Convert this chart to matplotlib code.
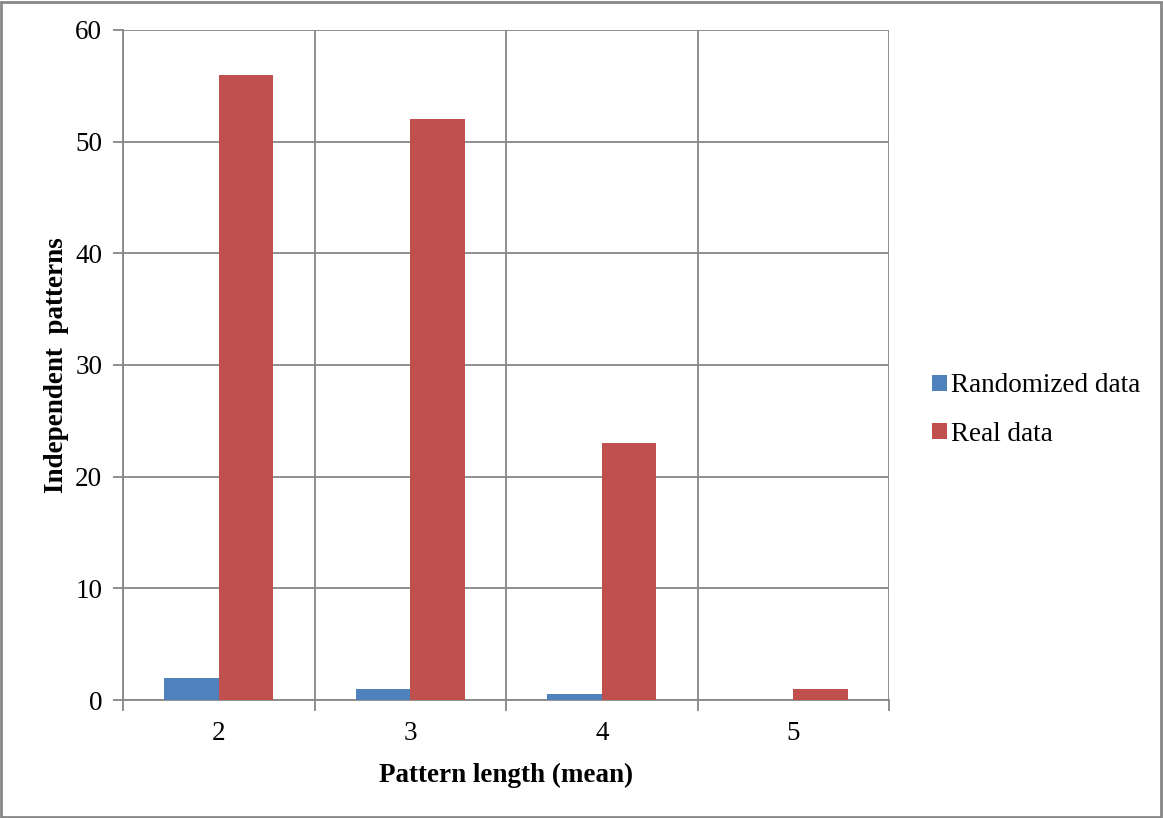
import matplotlib
matplotlib.use("Agg")
import matplotlib.pyplot as plt
import numpy as np
from matplotlib.patches import Rectangle

categories = ["2", "3", "4", "5"]
randomized = [2, 1, 0.5, 0]
real = [56, 52, 23, 1]
series_names = ["Randomized data", "Real data"]
yticks = [0, 10, 20, 30, 40, 50, 60]

plt.rcParams['font.family'] = ['Liberation Serif', 'DejaVu Serif']
FS = 19.5

fig = plt.figure(figsize=(11.63, 8.18), dpi=100)
ax = fig.add_axes([123/1163, 1-700/818, (889-123)/1163, (700-30)/818])

x = np.arange(len(categories))
w = 0.285
grid_c = '#878787'
b1 = ax.bar(x - w/2, randomized, w, color='#4F81BD', label=series_names[0], zorder=3)
b2 = ax.bar(x + w/2, real, w, color='#C0504D', label=series_names[1], zorder=3)

ax.set_xlim(-0.5, len(categories) - 0.5)
ax.set_ylim(0, 60)
ax.set_yticks(yticks)
ax.set_yticklabels([str(v) for v in yticks], fontsize=FS)
ax.set_xticks(np.arange(len(categories) + 1) - 0.5)
ax.set_xticklabels([])
ax.set_xticks(x, minor=True)
ax.set_xticklabels(categories, minor=True, fontsize=FS)
ax.tick_params(axis='x', which='major', length=8, color=grid_c, width=1.3)
ax.tick_params(axis='x', which='minor', length=0, pad=15)
ax.tick_params(axis='y', length=7, color=grid_c, width=1.3, pad=8)

ax.grid(True, which='major', axis='both', color=grid_c, linewidth=1.3, zorder=0)
ax.set_axisbelow(True)
for s in ['top', 'right']:
    ax.spines[s].set_visible(False)
for s in ['left', 'bottom']:
    ax.spines[s].set_color(grid_c)
    ax.spines[s].set_linewidth(1.3)

ax.set_xlabel("Pattern length (mean)", fontsize=FS, fontweight='bold', labelpad=12)
ax.set_ylabel("Independent  patterns", fontsize=FS, fontweight='bold', labelpad=4)

fig.legend(handles=[b1, b2], labels=series_names, loc='center left',
           bbox_to_anchor=(908/1163, 1-410/818), frameon=False, fontsize=FS,
           handlelength=0.55, handleheight=0.55, handletextpad=0.12, labelspacing=0.85)

fig.patches.append(Rectangle((0.001, 0.001), 0.997, 0.997, transform=fig.transFigure,
                             fill=False, edgecolor='#878787', linewidth=2))

fig.savefig("out.png", dpi=100)
